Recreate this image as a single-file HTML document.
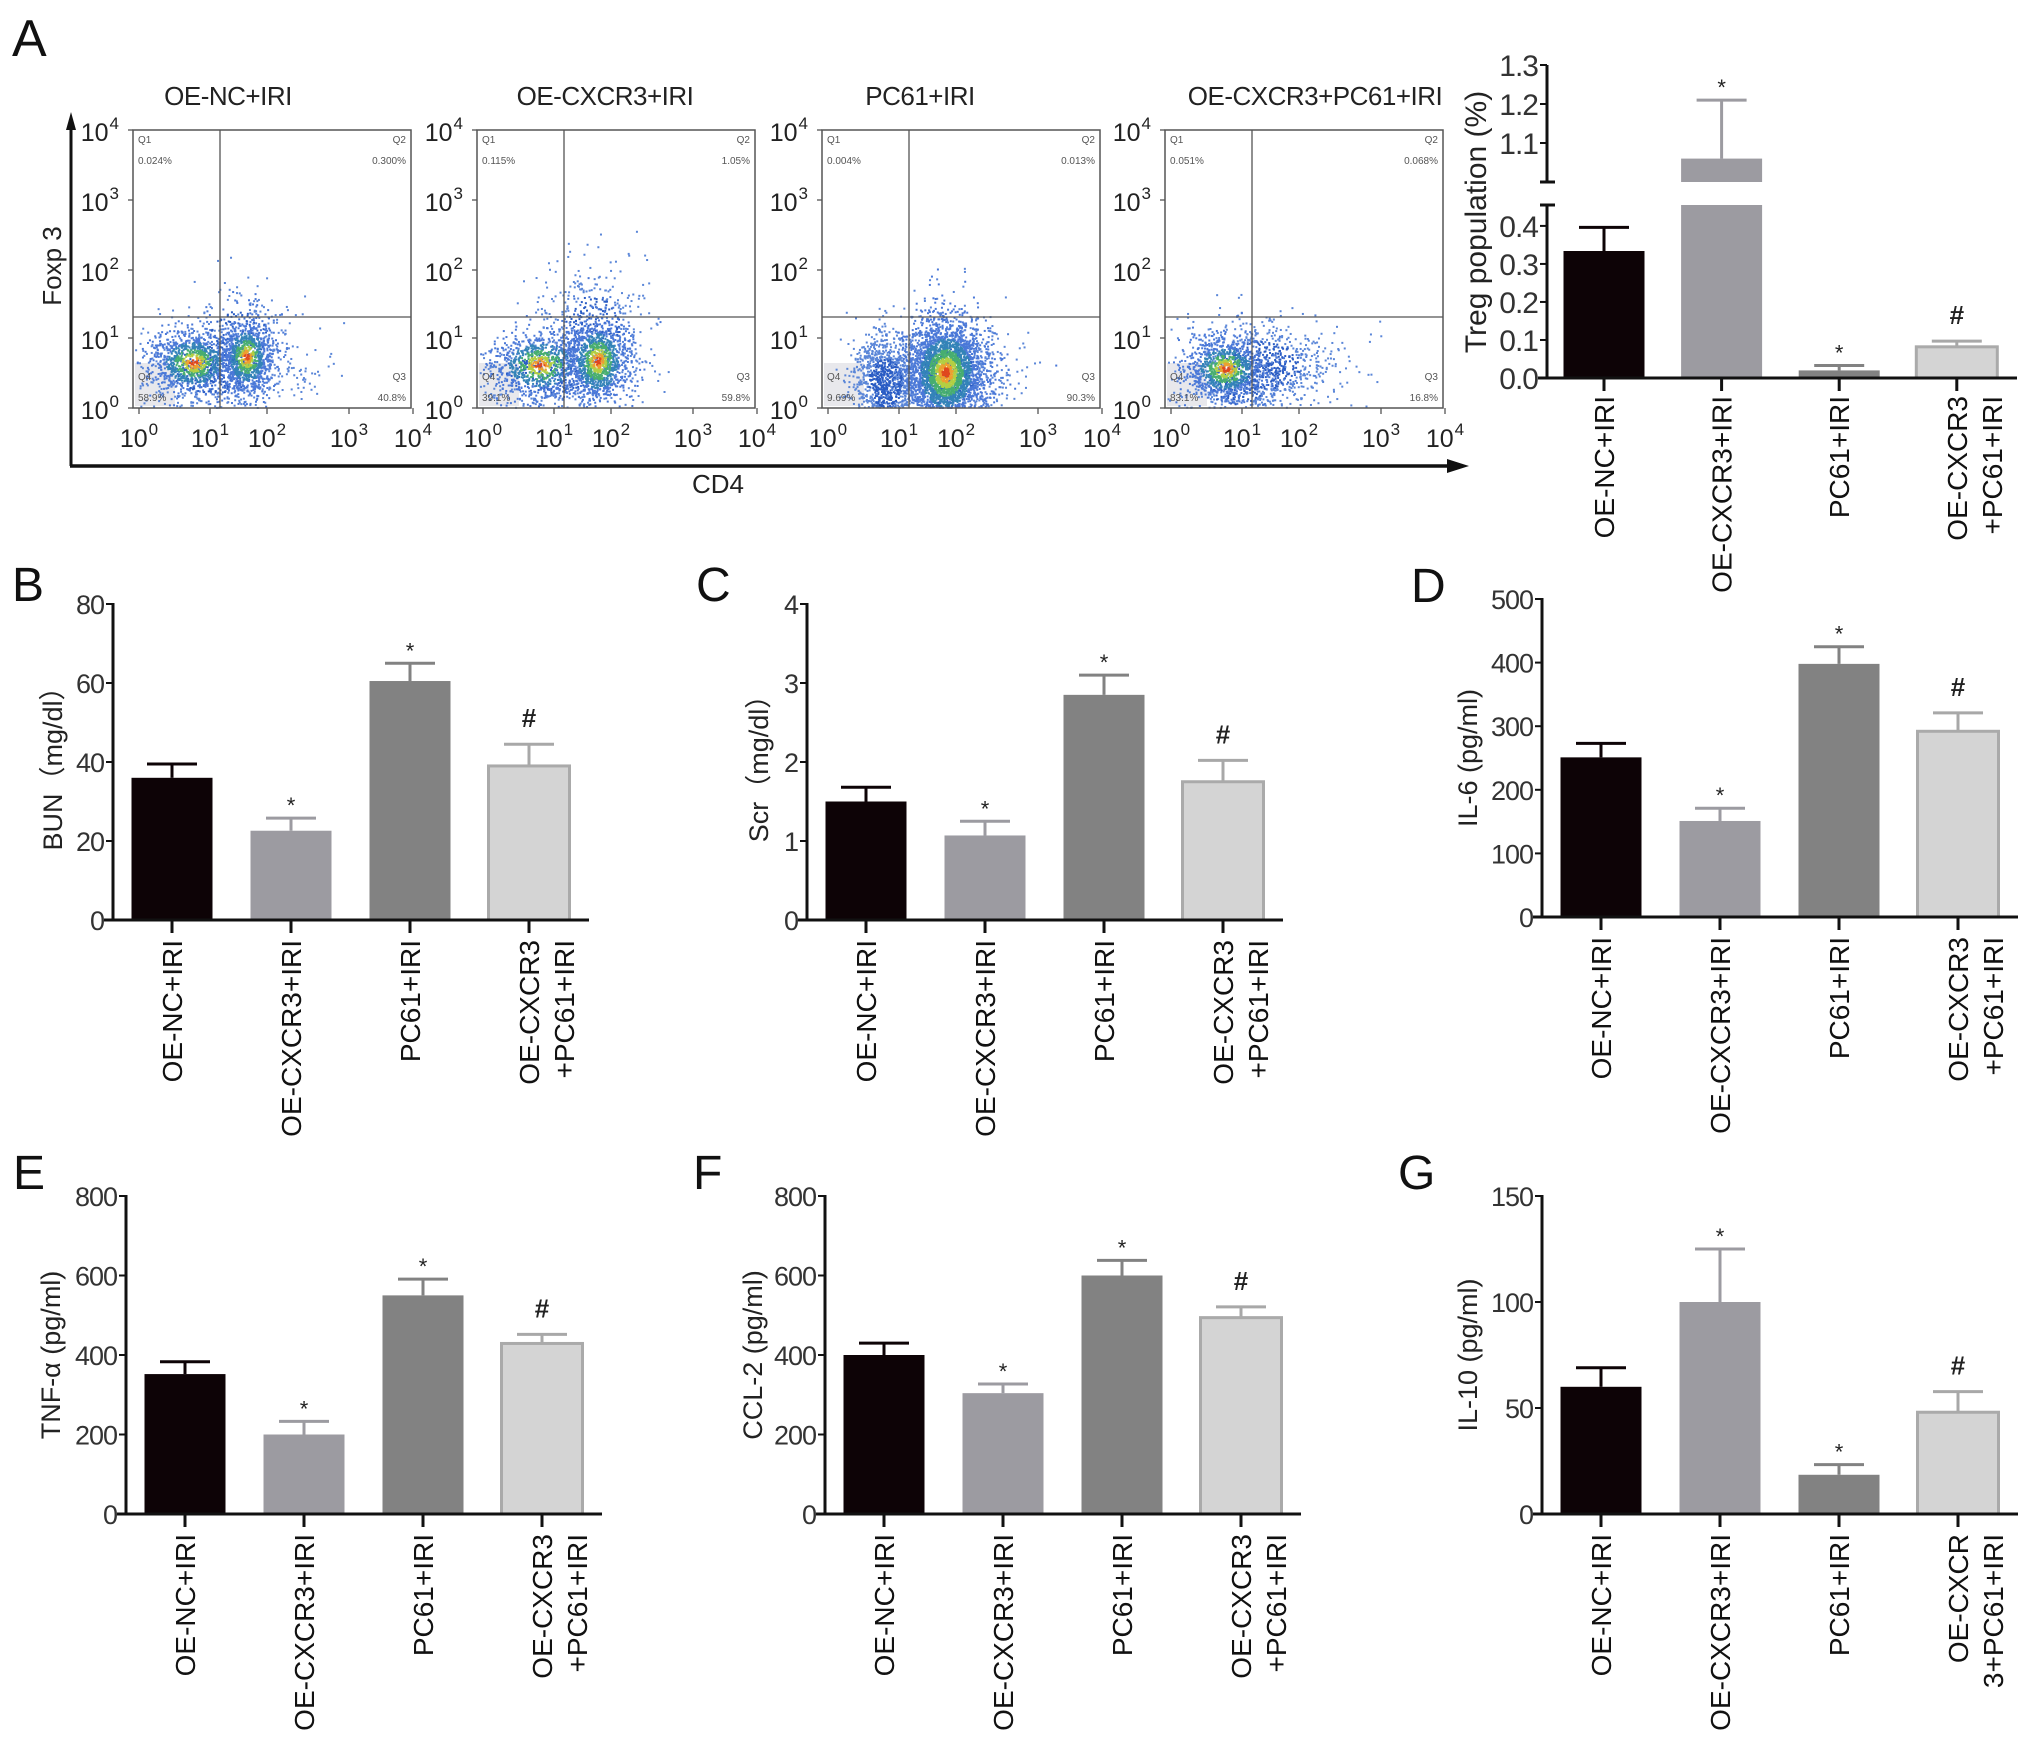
<!DOCTYPE html>
<html><head><meta charset="utf-8">
<style>
html,body{margin:0;padding:0;background:#fff;}
svg{display:block;font-family:"Liberation Sans",Arial,sans-serif;}
</style></head>
<body>
<svg id="fig" xmlns="http://www.w3.org/2000/svg" width="2031" height="1741" viewBox="0 0 2031 1741">
<rect x="0" y="0" width="2031" height="1741" fill="#fff"/>
<g id="flow"></g>
<g id="bars"></g>
</svg>
<script>
// ---------- DATA ----------
const categories = ['OE-NC+IRI','OE-CXCR3+IRI','PC61+IRI',['OE-CXCR3','+PC61+IRI']];
const categoriesG = ['OE-NC+IRI','OE-CXCR3+IRI','PC61+IRI',['OE-CXCR','3+PC61+IRI']];
const tregValues = [0.334, 1.06, 0.02, 0.082];
const tregErrors = [0.062, 0.15, 0.013, 0.015];
const tregMarks = ['', '*', '*', '#'];
const bunValues = [36, 22.6, 60.5, 39];
const bunErrors = [3.5, 3.2, 4.5, 5.5];
const bunMarks = ['', '*', '*', '#'];
const scrValues = [1.5, 1.07, 2.85, 1.75];
const scrErrors = [0.18, 0.18, 0.25, 0.27];
const scrMarks = ['', '*', '*', '#'];
const il6Values = [251, 151, 398, 292];
const il6Errors = [22, 20, 27, 29];
const il6Marks = ['', '*', '*', '#'];
const tnfValues = [352, 200, 550, 429];
const tnfErrors = [31, 33, 41, 23];
const tnfMarks = ['', '*', '*', '#'];
const ccl2Values = [400, 304, 600, 494];
const ccl2Errors = [30, 23, 38, 27];
const ccl2Marks = ['', '*', '*', '#'];
const il10Values = [60, 100, 18.5, 48];
const il10Errors = [9, 25, 4.8, 9.7];
const il10Marks = ['', '*', '*', '#'];
const bunTicks = [0,20,40,60,80];
const scrTicks = [0,1,2,3,4];
const il6Ticks = [0,100,200,300,400,500];
const tnfTicks = [0,200,400,600,800];
const ccl2Ticks = [0,200,400,600,800];
const il10Ticks = [0,50,100,150];
const tregLowTicks = ['0.0','0.1','0.2','0.3','0.4'];
const tregHighTicks = ['1.1','1.2','1.3'];
const flowTitles = ['OE-NC+IRI','OE-CXCR3+IRI','PC61+IRI','OE-CXCR3+PC61+IRI'];
const flowQ1 = ['0.024%','0.115%','0.004%','0.051%'];
const flowQ2 = ['0.300%','1.05%','0.013%','0.068%'];
const flowQ4 = ['58.9%','39.1%','9.69%','83.1%'];
const flowQ3 = ['40.8%','59.8%','90.3%','16.8%'];
const logTickExp = ['0','1','2','3','4'];
// ---------- STYLE ----------
const NS='http://www.w3.org/2000/svg';
const barFill=['#0d0306','#9c9ba1','#828282','#d4d4d4'];
const errCol=['#0d0306','#9c9ba1','#828282','#a8a8a8'];
function mk(tag,attrs,parent,txt){const e=document.createElementNS(NS,tag);for(const k in attrs)e.setAttribute(k,attrs[k]);if(txt!==undefined)e.textContent=txt;parent.appendChild(e);return e;}
const fig=document.getElementById('fig');
const flowG=document.getElementById('flow');
const barsG=document.getElementById('bars');

function letter(ch,x,y,size){const t=mk('text',{x:x,y:y,'font-size':size,fill:'#111'},fig,ch);

}

// ---------- Bar chart ----------
function barChart(o){
  const g=mk('g',{},barsG);
  
  
  const y=v=>o.y0-(v/o.max)*(o.y0-o.yTop);
  const cx=i=>o.ax+59+i*119;
  o.values.forEach((v,i)=>{
    const top=y(v), et=y(v+o.errors[i]);
    const ln=mk('line',{x1:cx(i),x2:cx(i),y1:top,y2:et,stroke:errCol[i],'stroke-width':3},g);
    
    
    const cap=mk('line',{x1:cx(i)-25,x2:cx(i)+25,y1:et,y2:et,stroke:errCol[i],'stroke-width':3},g);
    
    
    const r=mk('rect',{x:cx(i)-40.5,y:top,width:81,height:o.y0-top,fill:barFill[i],stroke:i==3?'#aaaaaa':barFill[i],'stroke-width':i==3?3:0},g);
    
    
    const m=o.marks[i];
    if(m==='*'){const s=mk('text',{x:cx(i),y:et-5,'font-size':22,'text-anchor':'middle',fill:'#222'},g,'*');
      
      }
    if(m==='#'){const s=mk('text',{x:cx(i),y:et-17,'font-size':26,'font-weight':'bold','text-anchor':'middle',fill:'#222'},g,'#');
      
      }
  });
  const ya=mk('line',{x1:o.ax,x2:o.ax,y1:o.yTop-1,y2:o.y0+1.5,stroke:'#111','stroke-width':3},g);
  
  
  const xa=mk('line',{x1:o.ax-9,x2:o.ax+476,y1:o.y0,y2:o.y0,stroke:'#111','stroke-width':3},g);
  
  
  o.ticks.forEach(t=>{
    const tk=mk('line',{x1:o.ax-7,x2:o.ax,y1:y(t),y2:y(t),stroke:'#111','stroke-width':2},g);
    
    
    const tl=mk('text',{x:o.ax-9,y:y(t)+10,'font-size':27,'text-anchor':'end',fill:'#333','letter-spacing':'-1'},g,String(t));
    
    
  });
  o.cats.forEach((c,i)=>{
    const tk=mk('line',{x1:cx(i),x2:cx(i),y1:o.y0,y2:o.y0+13,stroke:'#111','stroke-width':3},g);
    
    
    const lines=Array.isArray(c)?c:[c];
    lines.forEach((s,j)=>{
      const bx=cx(i)+10+j*35;
      const t=mk('text',{x:0,y:0,'font-size':28,'text-anchor':'end',fill:'#111',transform:'translate('+bx+','+(o.y0+20)+') rotate(-90)'},g,s);
      
      
    });
  });
  const yl=mk('text',{x:0,y:0,'font-size':27,'text-anchor':'middle',fill:'#222',transform:'translate('+(o.ylx+10)+','+((o.y0+o.yTop)/2)+') rotate(-90)'},g,o.ylabel);
  
  
}

barChart({name:'bun-chart',ax:113,y0:920,yTop:604,max:80,ticks:bunTicks,values:bunValues,errors:bunErrors,marks:bunMarks,cats:categories,ylabel:'BUN（mg/dl）',ylx:52});
barChart({name:'scr-chart',ax:807,y0:920,yTop:604,max:4,ticks:scrTicks,values:scrValues,errors:scrErrors,marks:scrMarks,cats:categories,ylabel:'Scr（mg/dl）',ylx:758});
barChart({name:'il6-chart',ax:1542,y0:917,yTop:599,max:500,ticks:il6Ticks,values:il6Values,errors:il6Errors,marks:il6Marks,cats:categories,ylabel:'IL-6 (pg/ml)',ylx:1467});
barChart({name:'tnf-chart',ax:126,y0:1514,yTop:1196,max:800,ticks:tnfTicks,values:tnfValues,errors:tnfErrors,marks:tnfMarks,cats:categories,ylabel:'TNF-α (pg/ml)',ylx:50});
barChart({name:'ccl2-chart',ax:825,y0:1514,yTop:1196,max:800,ticks:ccl2Ticks,values:ccl2Values,errors:ccl2Errors,marks:ccl2Marks,cats:categories,ylabel:'CCL-2 (pg/ml)',ylx:752});
barChart({name:'il10-chart',ax:1542,y0:1514,yTop:1196,max:150,ticks:il10Ticks,values:il10Values,errors:il10Errors,marks:il10Marks,cats:categoriesG,ylabel:'IL-10 (pg/ml)',ylx:1467});

// ---------- Treg broken-axis chart ----------
(function(){
  const g=mk('g',{},barsG);
  
  
  const ax=1547, y0=378, lowTop=205, lowMax=0.455, hiBot=182, hiTop=65;
  const yLow=v=>y0-(v/lowMax)*(y0-lowTop);
  const yHi=v=>hiBot-((v-1.0)/0.3)*(hiBot-hiTop);
  const yv=v=>v<=lowMax?yLow(v):(v<1.0?lowTop:yHi(v));
  const cx=i=>ax+57+i*117.6;
  tregValues.forEach((v,i)=>{
    const et=yv(v+tregErrors[i]);
    const el=mk('line',{x1:cx(i),x2:cx(i),y1:yv(v),y2:et,stroke:errCol[i],'stroke-width':3},g);
    
    
    const ec=mk('line',{x1:cx(i)-25,x2:cx(i)+25,y1:et,y2:et,stroke:errCol[i],'stroke-width':3},g);
    
    
    const lt=yLow(Math.min(v,lowMax));
    const r=mk('rect',{x:cx(i)-40.5,y:lt,width:81,height:y0-lt,fill:barFill[i],stroke:i==3?'#aaaaaa':barFill[i],'stroke-width':i==3?3:0},g);
    
    
    if(v>1.0){const ut=yHi(v);
      const r2=mk('rect',{x:cx(i)-40.5,y:ut,width:81,height:hiBot-ut,fill:barFill[i]},g);
      
      }
    const m=tregMarks[i];
    if(m==='*'){const s=mk('text',{x:cx(i),y:et-5,'font-size':22,'text-anchor':'middle',fill:'#222'},g,'*');
      
      }
    if(m==='#'){const s=mk('text',{x:cx(i),y:et-17,'font-size':26,'font-weight':'bold','text-anchor':'middle',fill:'#222'},g,'#');
      
      }
  });
  const a1=mk('line',{x1:ax,x2:ax,y1:lowTop,y2:y0+1.5,stroke:'#111','stroke-width':3},g);
  
  
  const a2=mk('line',{x1:ax,x2:ax,y1:hiTop,y2:hiBot,stroke:'#111','stroke-width':3},g);
  
  
  [lowTop,hiBot].forEach(yy=>{const c=mk('line',{x1:ax-7,x2:ax+8,y1:yy,y2:yy,stroke:'#111','stroke-width':3},g);
    
    });
  const xa=mk('line',{x1:ax-9,x2:2017,y1:y0,y2:y0,stroke:'#111','stroke-width':3},g);
  
  
  tregLowTicks.forEach(t=>{const yy=yLow(parseFloat(t));
    const tk=mk('line',{x1:ax-7,x2:ax,y1:yy,y2:yy,stroke:'#111','stroke-width':2},g);
    
    
    const tl=mk('text',{x:ax-9,y:yy+11,'font-size':30,'text-anchor':'end',fill:'#333','letter-spacing':'-1'},g,t);
    
    });
  tregHighTicks.forEach(t=>{const yy=yHi(parseFloat(t));
    const tk=mk('line',{x1:ax-7,x2:ax,y1:yy,y2:yy,stroke:'#111','stroke-width':2},g);
    
    
    const tl=mk('text',{x:ax-9,y:yy+11,'font-size':30,'text-anchor':'end',fill:'#333','letter-spacing':'-1'},g,t);
    
    });
  categories.forEach((c,i)=>{
    const tk=mk('line',{x1:cx(i),x2:cx(i),y1:y0,y2:y0+13,stroke:'#111','stroke-width':3},g);
    
    
    const lines=Array.isArray(c)?c:[c];
    lines.forEach((s,j)=>{const t=mk('text',{x:0,y:0,'font-size':28,'text-anchor':'end',fill:'#111',transform:'translate('+(cx(i)+10+j*35)+','+(y0+18)+') rotate(-90)'},g,s);
      
      });
  });
  const yl=mk('text',{x:0,y:0,'font-size':30,'text-anchor':'middle',fill:'#222',transform:'translate(1486,222) rotate(-90)'},g,'Treg population (%)');
  
  
})();

// ---------- Flow cytometry ----------
const boxLeft=[133,477,822,1165];
const boxTop=130, boxW=278, boxH=278;
const xTickOff=[6,77,134,216,280];
const yTickOff=[278,208,140,70,0];
const titleCx=[228,605,920,1315];
// cluster texture parameters [relX, relY, sx, sy, n, hot]
const clusters=[
  [[60,232,22,16,900,1],[113,226,13,19,900,1],[80,238,45,24,800,0],[105,205,28,28,200,0]],
  [[62,234,25,17,800,1],[120,230,16,22,1100,1],[115,200,28,35,450,0],[70,242,45,20,450,0]],
  [[123,242,20,27,2600,1],[63,252,17,24,1000,0],[125,245,30,30,900,0]],
  [[60,238,20,16,900,1],[95,235,40,24,800,0],[70,255,28,20,300,0]]
];
let seed=12345;
function rnd(){seed|=0;seed=seed+0x6D2B79F5|0;let t=Math.imul(seed^seed>>>15,1|seed);t=t+Math.imul(t^t>>>7,61|t)^t;return((t^t>>>14)>>>0)/4294967296;}
function gauss(){let u=0,v=0;while(u===0)u=rnd();v=rnd();return Math.sqrt(-2*Math.log(u))*Math.cos(2*Math.PI*v);}
function dotColor(d,hot){
  if(!hot) return d<1.0?'#2a5cc4':'#5a86d8';
  if(d<0.18)return '#e0481e';
  if(d<0.35)return '#eca030';
  if(d<0.55)return '#b2cf44';
  if(d<0.85)return '#48ae70';
  if(d<1.25)return '#3484b8';
  return '#4a78d8';
}
for(let p=0;p<4;p++){
  const L=boxLeft[p];
  const g=mk('g',{},flowG);
  
  
  const t=mk('text',{x:titleCx[p],y:105,'font-size':26,'text-anchor':'middle',fill:'#222','letter-spacing':'-0.5'},g,flowTitles[p]);
  
  
  const q4box=mk('rect',{x:L+2,y:boxTop+233,width:40,height:43,fill:'#e8e8ec'},g);
  
  
  const dg=mk('g',{},g);
  
  
  const order=clusters[p].slice().sort((a,b)=>a[5]-b[5]);
  order.forEach(c=>{
    const pts=[];
    for(let k=0;k<c[4];k++){
      const dx=gauss()*c[2], dy=gauss()*c[3];
      const x=c[0]+dx, y=c[1]+dy;
      if(x<2||x>boxW-2||y<2||y>boxH-1)continue;
      const d=Math.sqrt((dx/c[2])**2+(dy/c[3])**2);
      pts.push([x,y,d]);
    }
    pts.sort((a,b)=>b[2]-a[2]);
    pts.forEach(q=>{mk('rect',{x:L+q[0],y:boxTop+q[1],width:2,height:2,fill:dotColor(q[2],c[5])},dg);});
  });
  const box=mk('rect',{x:L,y:boxTop,width:boxW,height:boxH,fill:'none',stroke:'#555','stroke-width':1.5},g);
  
  
  const gv=mk('line',{x1:L+87,x2:L+87,y1:boxTop,y2:boxTop+boxH,stroke:'#555','stroke-width':1.3},g);
  
  
  const gh=mk('line',{x1:L,x2:L+boxW,y1:317,y2:317,stroke:'#555','stroke-width':1.3},g);
  
  
  const qs=[['Q1',flowQ1[p],L+5,boxTop+13,'start'],['Q2',flowQ2[p],L+boxW-5,boxTop+13,'end'],['Q4',flowQ4[p],L+5,boxTop+250,'start'],['Q3',flowQ3[p],L+boxW-5,boxTop+250,'end']];
  qs.forEach(q=>{
    const a=mk('text',{x:q[2],y:q[3],'font-size':10,'text-anchor':q[4],fill:'#555'},g,q[0]);
    
    
    const b=mk('text',{x:q[2],y:q[3]+21,'font-size':10,'text-anchor':q[4],fill:'#555'},g,q[1]);
    
    
  });
  logTickExp.forEach((e,i)=>{
    const yy=boxTop+yTickOff[i];
    const yl=mk('text',{x:L-14,y:yy+11,'font-size':25,'text-anchor':'end',fill:'#222'},g);
    
    
    yl.appendChild(document.createTextNode('10'));
    mk('tspan',{dx:1,dy:-12,'font-size':17},yl,e);
    const xx=L+xTickOff[i];
    const xl=mk('text',{x:xx,y:447,'font-size':25,'text-anchor':'middle',fill:'#222'},g);
    
    
    xl.appendChild(document.createTextNode('10'));
    mk('tspan',{dx:1,dy:-12,'font-size':17},xl,e);
    mk('line',{x1:xx,x2:xx,y1:boxTop+boxH,y2:boxTop+boxH+6,stroke:'#555','stroke-width':1.3},g);
    mk('line',{x1:L-5,x2:L,y1:yy,y2:yy,stroke:'#555','stroke-width':1.3},g);
  });
}
(function(){
  const g=mk('g',{},flowG);
  
  
  mk('line',{x1:71,x2:71,y1:128,y2:466,stroke:'#111','stroke-width':3},g);
  mk('polygon',{points:'71,112 66,130 76,130',fill:'#111'},g);
  mk('line',{x1:70,x2:1450,y1:466,y2:466,stroke:'#111','stroke-width':3.5},g);
  mk('polygon',{points:'1469,466 1447,459 1447,473',fill:'#111'},g);
  const cd4=mk('text',{x:718,y:493,'font-size':26,'text-anchor':'middle',fill:'#222'},g,'CD4');
  
  
  const fx=mk('text',{x:0,y:0,'font-size':26,'text-anchor':'middle',fill:'#222',transform:'translate(61,266) rotate(-90)'},g,'Foxp 3');
  
  
})();

letter('A',12,56,52);
letter('B',12,601,48);
letter('C',696,601,48);
letter('D',1411,602,48);
letter('E',13,1189,48);
letter('F',693,1189,48);
letter('G',1398,1189,48);
</script>
</body></html>
